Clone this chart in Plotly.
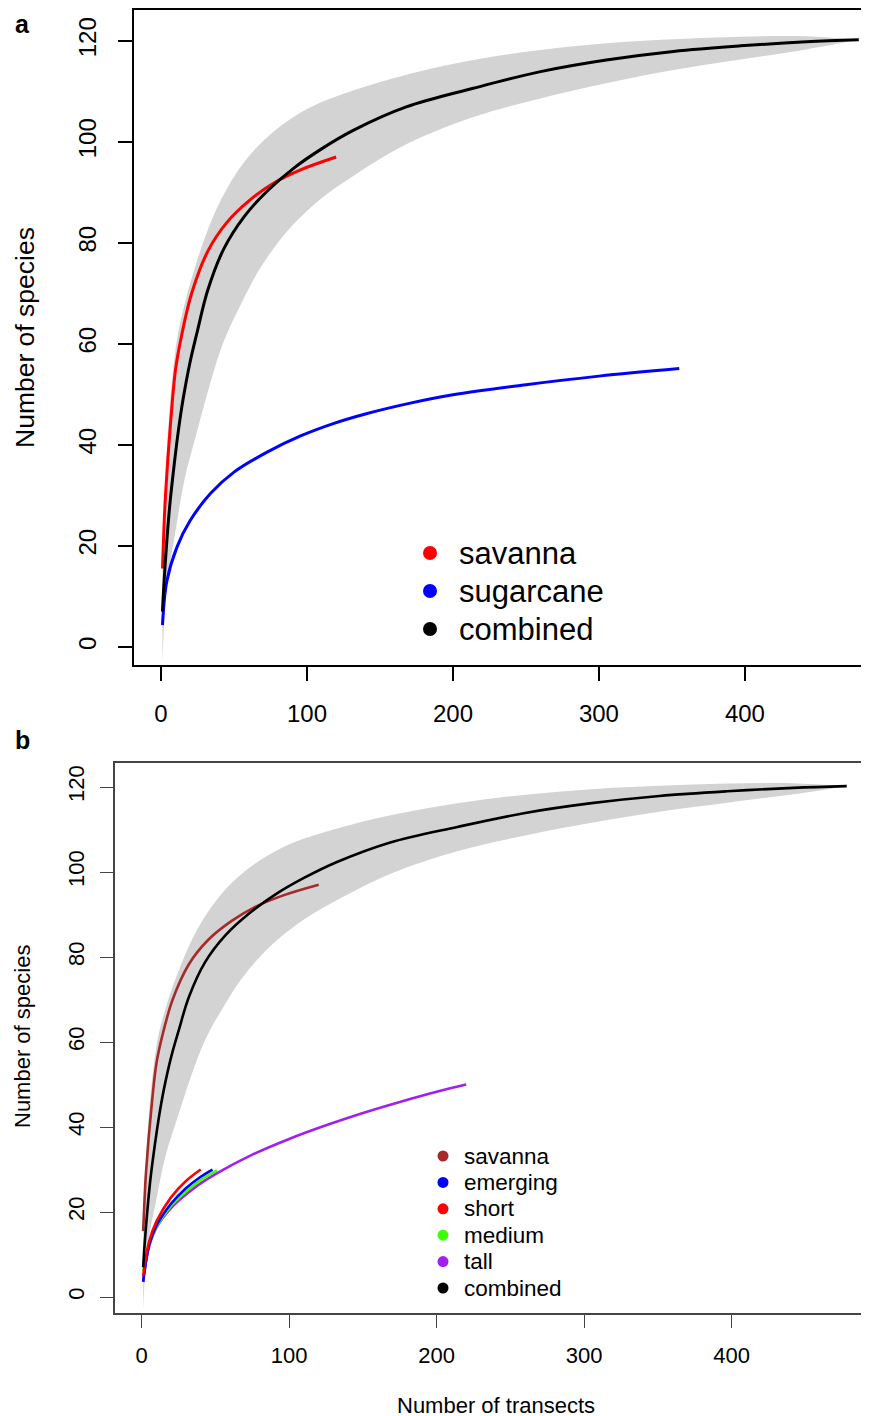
import plotly.graph_objects as go

W, H = 869, 1416
OFF = 8  # page body margin of the browser

# ---------------- data ----------------
comb_x = [1, 2, 4, 6, 9, 12, 15, 20, 25, 32, 43, 57, 73, 91, 110, 132, 168, 214, 260, 305, 351, 397, 442, 478]
comb_y = [7.0, 12.5, 21.0, 28.0, 36.0, 43.0, 48.8, 56.5, 62.6, 70.6, 78.8, 85.2, 90.3, 94.8, 98.6, 102.3,
          106.9, 110.6, 113.9, 116.2, 117.9, 119.0, 119.8, 120.2]

low_x = [1, 4, 10, 16, 25, 34, 43, 55, 68, 87, 109, 132, 168, 214, 260, 305, 351, 397, 442, 478]
low_y = [-3.0, 12.0, 23.0, 33.0, 43.0, 52.5, 60.5, 68.0, 75.0, 82.5, 88.6, 93.3, 99.5, 104.9, 108.6, 111.6,
         114.2, 116.3, 118.3, 120.2]

up_x = [1, 2, 4, 6, 8, 11, 15, 20, 30, 41, 57, 77, 102, 132, 168, 214, 260, 305, 351, 397, 442, 478]
up_y = [17.0, 27.0, 39.0, 47.5, 54.0, 61.0, 66.5, 72.0, 81.0, 88.5, 96.0, 102.0, 106.8, 110.2, 113.3, 116.2,
        118.2, 119.5, 120.3, 120.8, 120.9, 120.2]

sav_x = [1, 2, 3, 6.6, 10, 14, 21, 32, 45, 61, 77, 96, 120]
sav_y = [15.5, 23.5, 29.7, 44.5, 55.0, 61.5, 70.0, 78.3, 84.0, 88.5, 91.8, 94.5, 97.0]

sug_x = [1, 4, 11, 20, 34, 50, 73, 96, 118, 140, 170, 200, 250, 300, 355]
sug_y = [4.3, 13.0, 19.8, 25.0, 30.4, 34.6, 38.6, 41.8, 44.2, 46.1, 48.2, 49.9, 51.9, 53.6, 55.1]

eme_x = [1, 5, 10, 20, 30, 40, 48]
eme_y = [3.6, 12.2, 16.8, 22.0, 25.6, 28.3, 30.0]

sho_x = [1, 5, 10, 20, 30, 40]
sho_y = [5.0, 13.0, 17.8, 23.5, 27.3, 30.0]

med_x = [1, 5, 10, 20, 30, 40, 51]
med_y = [6.0, 12.3, 16.5, 21.5, 24.8, 27.5, 29.8]

tal_x = [1, 5, 10, 20, 35, 50, 75, 100, 125, 150, 175, 200, 220]
tal_y = [3.6, 11.8, 16.3, 21.0, 25.5, 28.9, 33.5, 37.2, 40.4, 43.3, 45.9, 48.3, 50.0]

x_ticks = [0, 100, 200, 300, 400]
y_ticks = [0, 20, 40, 60, 80, 100, 120]

legend_a = [("savanna", "#FF0000"), ("sugarcane", "#0000FF"), ("combined", "#000000")]
legend_b = [("savanna", "#A52A2A"), ("emerging", "#0000FF"), ("short", "#FF0000"),
            ("medium", "#3CFF00"), ("tall", "#A020F0"), ("combined", "#000000")]

FONT = "Liberation Sans, Arial, sans-serif"
BAND = "#D3D3D3"

fig = go.Figure()


def add_panel(xa, ya, lw, extra):
    fig.add_trace(go.Scatter(x=low_x, y=low_y, mode="lines", line=dict(width=0, shape="spline"),
                             xaxis=xa, yaxis=ya, showlegend=False, hoverinfo="skip"))
    fig.add_trace(go.Scatter(x=up_x, y=up_y, mode="lines", line=dict(width=0, shape="spline"),
                             fill="tonexty", fillcolor=BAND,
                             xaxis=xa, yaxis=ya, showlegend=False, hoverinfo="skip"))
    for xs, ys, col in extra:
        fig.add_trace(go.Scatter(x=xs, y=ys, mode="lines", line=dict(color=col, width=lw, shape="spline"),
                                 xaxis=xa, yaxis=ya, showlegend=False))
    fig.add_trace(go.Scatter(x=comb_x, y=comb_y, mode="lines", line=dict(color="black", width=lw, shape="spline"),
                             xaxis=xa, yaxis=ya, showlegend=False))


add_panel("x", "y", 3, [(sav_x, sav_y, "#FF0000"), (sug_x, sug_y, "#0000FF")])
add_panel("x2", "y2", 2.6, [(sav_x, sav_y, "#A52A2A"), (tal_x, tal_y, "#A020F0"),
                            (med_x, med_y, "#3CFF00"), (eme_x, eme_y, "#0000FF"),
                            (sho_x, sho_y, "#FF0000")])


def fx(px):
    return (px - OFF) / W


def fy(py):
    return 1 - (py - OFF) / H


axa = dict(showgrid=False, zeroline=False, showline=True, linecolor="black", linewidth=2,
           ticks="outside", ticklen=14, tickwidth=1.6, tickcolor="black",
           tickfont=dict(family=FONT, size=24, color="black"))
axb = dict(showgrid=False, zeroline=False, showline=True, linecolor="#444444", linewidth=1.5,
           ticks="outside", ticklen=13, tickwidth=1.4, tickcolor="#444444",
           tickfont=dict(family=FONT, size=22, color="black"))

fig.update_layout(
    width=W, height=H, margin=dict(l=0, r=0, t=0, b=0),
    paper_bgcolor="white", plot_bgcolor="white", showlegend=False,
    xaxis=dict(axa, domain=[fx(134), fx(869)], range=[-18.5, 485], tickvals=x_ticks, mirror=True, anchor="y",
               ticklabelstandoff=12),
    yaxis=dict(axa, domain=[fy(665), fy(10)], range=[-3.6, 126.1], tickvals=y_ticks, tickangle=-90,
               anchor="x", ticklabelstandoff=12),
    xaxis2=dict(axb, domain=[fx(115), fx(869)], range=[-18.1, 493.1], tickvals=x_ticks, mirror=True,
                anchor="y2", ticklabelstandoff=9),
    yaxis2=dict(axb, domain=[fy(1313), fy(763)], range=[-3.76, 125.65], tickvals=y_ticks, tickangle=-90,
                anchor="x2", ticklabelstandoff=7),
)

ann = []
shapes = []


def label(text, px, py, size, angle=0, anchor="center", yanchor="middle"):
    ann.append(dict(text=text, x=fx(px), y=fy(py), xref="paper", yref="paper", showarrow=False,
                    xanchor=anchor, yanchor=yanchor, textangle=angle,
                    font=dict(family=FONT, size=size, color="black")))


label("<b>a</b>", 22, 8, 25, yanchor="top")
label("<b>b</b>", 22, 740, 25)
label("Number of species", 25, 338, 26.5, angle=-90)
label("Number of species", 22, 1037, 22, angle=-90)
label("Number of transects", 496, 1405, 22)

for i, (lab, col) in enumerate(legend_a):
    cy = 553 + 38 * i
    label(lab, 457, cy, 31, anchor="left")
    shapes.append(dict(type="circle", xref="paper", yref="paper", x0=fx(423), x1=fx(437),
                       y0=fy(cy + 7), y1=fy(cy - 7), fillcolor=col, line=dict(width=0)))

for i, (lab, col) in enumerate(legend_b):
    cy = 1156 + 26.4 * i
    label(lab, 462, cy, 22.5, anchor="left")
    shapes.append(dict(type="circle", xref="paper", yref="paper", x0=fx(437.5), x1=fx(448.5),
                       y0=fy(cy + 5.5), y1=fy(cy - 5.5), fillcolor=col, line=dict(width=0)))

fig.update_layout(annotations=ann, shapes=shapes)
fig.write_html("out.html")
